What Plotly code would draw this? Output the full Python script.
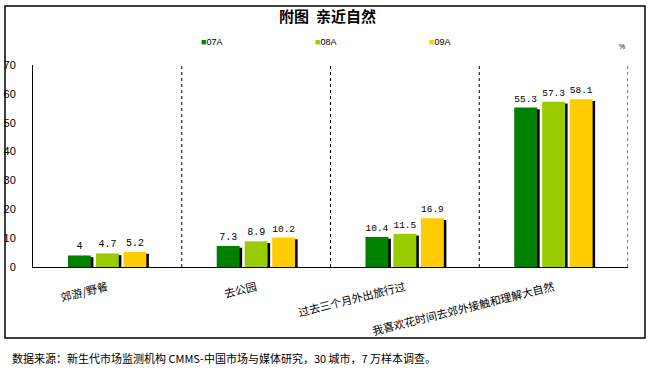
import plotly.graph_objects as go

categories = ["郊游/野餐", "去公园", "过去三个月外出旅行过", "我喜欢花时间去郊外接触和理解大自然"]
series_names = ["07A", "08A", "09A"]
v07 = [4, 7.3, 10.4, 55.3]
v08 = [4.7, 8.9, 11.5, 57.3]
v09 = [5.2, 10.2, 16.9, 58.1]
y_ticks = [0, 10, 20, 30, 40, 50, 60, 70]

colors = ["#008000", "#99CC00", "#FFCC00"]
values = [v07, v08, v09]

W, H = 655, 378
ML, MR, MT, MB = 33, 27, 65, 111
pw = W - ML - MR
ph = H - MT - MB

def px_x(p):
    return (p - ML) / pw

def px_y(p):
    return (H - MB - p) / ph

bar_w = 0.154
offsets = [-0.265, -0.077, 0.108]
shadow_dx = 0.017

fig = go.Figure()
# shadows
for i, vals in enumerate(values):
    fig.add_trace(go.Bar(
        x=categories, y=[v - 0.6 for v in vals], width=bar_w, offset=offsets[i] + shadow_dx,
        marker=dict(color="black", line=dict(width=0)), showlegend=False, hoverinfo="skip"))
for i, vals in enumerate(values):
    fig.add_trace(go.Bar(
        x=categories, y=vals, name=series_names[i], width=bar_w, offset=offsets[i],
        marker=dict(color=colors[i], line=dict(width=0)),
        text=[f"{v:g}" for v in vals], textposition="outside", cliponaxis=False,
        textfont=dict(family="Liberation Mono", size=10, color="black"),
        showlegend=False))

shapes = []
for k in range(len(categories)):
    shapes.append(dict(type="line", xref="x", yref="y", x0=k + 0.5, x1=k + 0.5, y0=0, y1=y_ticks[-1],
                       line=dict(color="black", width=1, dash="3px,3px")))
shapes.append(dict(type="rect", xref="paper", yref="paper",
                   x0=px_x(5), x1=px_x(645), y0=px_y(338), y1=px_y(6),
                   line=dict(color="black", width=1.5), layer="below"))

annotations = []
leg_x = [199, 313, 427]
for i, n in enumerate(series_names):
    annotations.append(dict(xref="paper", yref="paper", x=px_x(leg_x[i]), y=px_y(42),
                            xanchor="left", yanchor="middle", showarrow=False,
                            text=f"<span style='color:{colors[i]}'>■</span>{n}",
                            font=dict(family="Liberation Sans", size=9, color="black")))
annotations.append(dict(xref="paper", yref="paper", x=px_x(622), y=px_y(47),
                        xanchor="center", yanchor="middle", showarrow=False, text="%",
                        font=dict(family="Liberation Sans", size=7, color="black")))
annotations.append(dict(xref="paper", yref="paper", x=px_x(10), y=px_y(358),
                        xanchor="left", yanchor="middle", showarrow=False,
                        text="数据来源：新生代市场监测机构 CMMS-中国市场与媒体研究，30 城市，7 万样本调查。",
                        font=dict(family="Noto Sans CJK SC", size=11, color="black")))

fig.update_layout(
    width=W, height=H, margin=dict(l=ML, r=MR, t=MT, b=MB, autoexpand=False),
    paper_bgcolor="white", plot_bgcolor="white",
    barmode="overlay", showlegend=False,
    title=dict(text="<b>附图  亲近自然</b>", x=0.5, xanchor="center", y=1 - 17 / H, yanchor="middle",
               font=dict(family="Noto Sans CJK SC", size=15, color="black")),
    xaxis=dict(range=[-0.5, 3.5], showline=True, linecolor="black", linewidth=1, showgrid=False,
               automargin=False, ticks="", tickangle=-14, ticklabelstandoff=9,
               tickfont=dict(family="Noto Sans CJK SC", size=11, color="black")),
    yaxis=dict(range=[0, 70], tickvals=y_ticks, showline=True, linecolor="black", linewidth=1,
               automargin=False, showgrid=False, zeroline=False, ticks="", ticklabelstandoff=14,
               tickfont=dict(family="Liberation Sans Narrow, Liberation Sans", size=11, color="black")),
    shapes=shapes, annotations=annotations,
)

fig.write_html("out.html", config={"displayModeBar": False},
               post_script="document.body.style.margin='0';document.body.style.overflow='hidden';")
